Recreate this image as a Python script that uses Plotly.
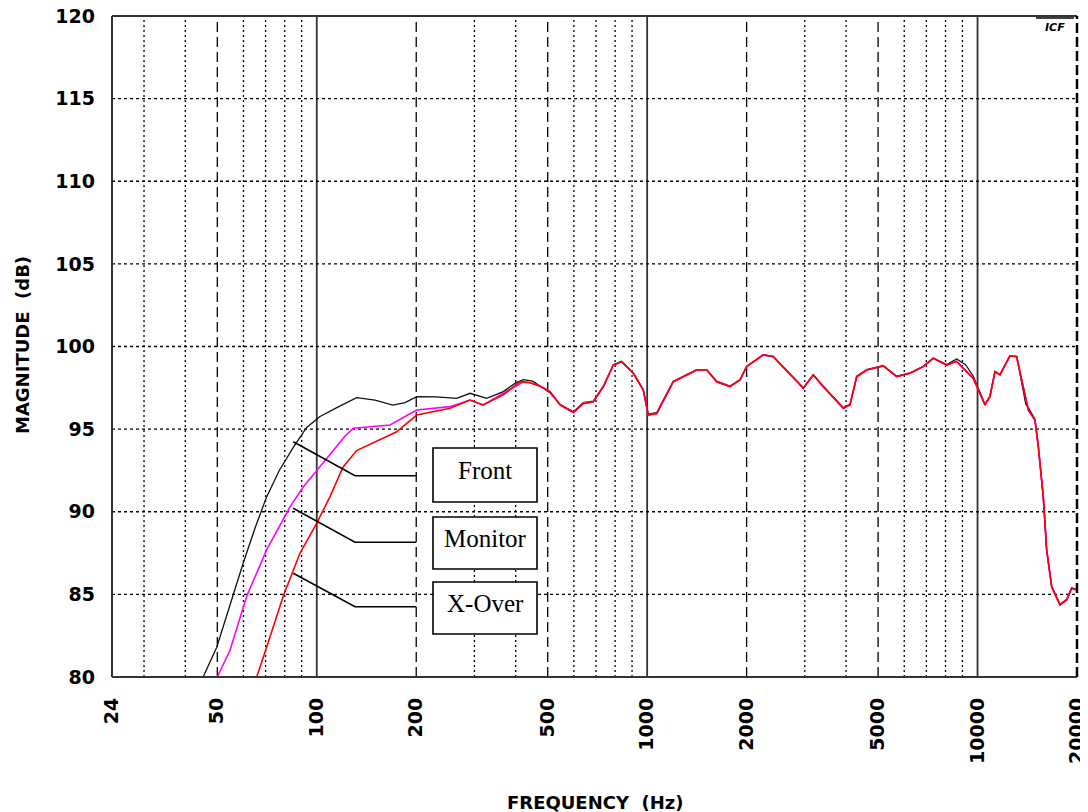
import math
import plotly.graph_objects as go

# ---------------- data ----------------
front_freq = [44, 45.3, 49.8, 54.5, 59.9, 65, 70.5, 77, 84.9, 93.2, 102, 115, 132, 150, 170, 185,
              200.7, 230, 265, 291, 327, 367, 400, 422, 450, 508, 545, 598, 641, 687, 737, 790, 837,
              908, 973, 1008, 1069, 1200, 1412, 1514, 1624, 1781, 1910, 2001, 2246, 2408, 2969,
              3182, 3412, 3924, 4111, 4308, 4618, 5185, 5691, 6246, 6849, 7344, 8065, 8645, 9200,
              9708, 10531, 10903, 11290, 11693, 12535, 13133, 14000, 14242, 14922, 15271, 15811,
              16188, 16762, 17760, 18607, 19267, 20000]
front_db = [79.5, 80.0, 81.8, 84.3, 86.9, 89.0, 90.9, 92.5, 93.9, 95.1, 95.75, 96.3, 96.9, 96.75,
            96.45, 96.6, 96.96, 96.95, 96.86, 97.17, 96.86, 97.27, 97.8, 98.0, 97.9, 97.2, 96.5,
            96.05, 96.6, 96.7, 97.6, 98.9, 99.1, 98.4, 97.4, 95.9, 96.0, 97.9, 98.6, 98.6, 97.9,
            97.6, 98.0, 98.8, 99.5, 99.4, 97.5, 98.3, 97.6, 96.3, 96.5, 98.2, 98.6, 98.85, 98.2,
            98.4, 98.8, 99.3, 98.9, 99.25, 98.9, 98.2, 96.5, 97.0, 98.5, 98.3, 99.45, 99.4, 96.5,
            96.3, 95.6, 94.0, 90.9, 87.7, 85.5, 84.4, 84.7, 85.4, 85.3]

monitor_freq = [49, 50, 54.6, 61.4, 70.5, 83, 91, 100, 112, 122, 129, 145, 166.6, 200.7, 253, 291,
                319, 367, 422, 442, 475, 508, 545, 598, 641, 687, 737, 790, 837, 908, 973, 1008,
                1069, 1200, 1412, 1514, 1624, 1781, 1910, 2001, 2246, 2408, 2969, 3182, 3412,
                3924, 4111, 4308, 4618, 5185, 5691, 6246, 6849, 7344, 8065, 8645, 9708, 10531,
                10903, 11290, 11693, 12535, 13133, 14242, 14922, 15271, 15811, 16188, 16762,
                17760, 18607, 19267, 20000]
monitor_db = [79.6, 80.0, 81.6, 84.9, 87.7, 90.3, 91.5, 92.5, 93.7, 94.6, 95.05, 95.15, 95.25,
              96.16, 96.36, 96.76, 96.46, 97.17, 97.87, 97.81, 97.6, 97.27, 96.46, 96.0, 96.56,
              96.66, 97.57, 98.88, 99.08, 98.38, 97.37, 95.85, 95.95, 97.87, 98.58, 98.58, 97.87,
              97.57, 97.97, 98.78, 99.49, 99.38, 97.47, 98.28, 97.57, 96.26, 96.46, 98.17, 98.58,
              98.82, 98.17, 98.38, 98.78, 99.28, 98.88, 99.1, 98.07, 96.46, 96.96, 98.47, 98.28,
              99.43, 99.38, 96.16, 95.55, 93.94, 90.91, 87.69, 85.46, 84.36, 84.66, 85.36, 85.26]

xover_freq = [64.5, 65.8, 70.5, 79.2, 89, 99.9, 109.6, 120, 132, 150, 174.5, 200.7, 253, 291, 319,
              367, 412, 442, 475, 508, 545, 598, 641, 687, 737, 790, 837, 908, 973, 1008, 1069,
              1200, 1412, 1514, 1624, 1781, 1910, 2001, 2246, 2408, 2969, 3182, 3412, 3924, 4111,
              4308, 4618, 5185, 5691, 6246, 6849, 7344, 8065, 8645, 9708, 10531, 10903, 11290,
              11693, 12535, 13133, 14242, 14922, 15271, 15811, 16188, 16762, 17760, 18607, 19267,
              20000]
xover_db = [79.6, 80.0, 81.8, 84.9, 87.5, 89.3, 90.9, 92.7, 93.7, 94.2, 94.84, 95.85, 96.26, 96.76,
            96.46, 97.07, 97.87, 97.81, 97.6, 97.27, 96.46, 96.0, 96.56, 96.66, 97.57, 98.88,
            99.08, 98.38, 97.37, 95.85, 95.95, 97.87, 98.58, 98.58, 97.87, 97.57, 97.97, 98.78,
            99.49, 99.38, 97.47, 98.28, 97.57, 96.26, 96.46, 98.17, 98.58, 98.82, 98.17, 98.38,
            98.78, 99.28, 98.88, 99.1, 98.07, 96.46, 96.96, 98.47, 98.28, 99.43, 99.38, 96.16,
            95.55, 93.94, 90.91, 87.69, 85.46, 84.36, 84.66, 85.36, 85.26]

x_tick_vals = [24, 50, 100, 200, 500, 1000, 2000, 5000, 10000, 20000]
x_tick_text = ["24", "50", "100", "200", "500", "1000", "2000", "5000", "10000", "20000"]
y_tick_vals = [80, 85, 90, 95, 100, 105, 110, 115, 120]

grid_solid = [100, 1000, 10000]
grid_longdash = [50, 200, 500, 2000, 5000]
grid_dotted = [30, 40, 60, 70, 80, 90, 300, 400, 600, 700, 800, 900,
               3000, 4000, 6000, 7000, 8000, 9000]
grid_h = [85, 90, 95, 100, 105, 110, 115]

labels = ["Front", "Monitor", "X-Over"]
leader_freq = [84.9, 130.5, 200]
leader_db = {"Front": [94.24, 92.18, 92.18],
             "Monitor": [90.21, 88.15, 88.15],
             "X-Over": [86.28, 84.25, 84.25]}

# ---------------- figure ----------------
# the page adds an 8px body margin; size the figure so the plot area lands where it should
W, H = 1080, 804
L, R, T, B = 104, 11, 8, 135
PL, PB, PW, PH = 112, 677, 965, 661  # plot area in page pixels


def px_x(p):
    return (p - PL) / PW


def px_y(p):
    return (PB - p) / PH


fig = go.Figure()

fig.add_trace(go.Scatter(x=front_freq, y=front_db, mode="lines", name="Front",
                         line=dict(color="#111111", width=1.3)))
fig.add_trace(go.Scatter(x=monitor_freq, y=monitor_db, mode="lines", name="Monitor",
                         line=dict(color="#ff00ff", width=1.6)))
fig.add_trace(go.Scatter(x=xover_freq, y=xover_db, mode="lines", name="X-Over",
                         line=dict(color="#ff0000", width=1.6)))

for lab in labels:
    fig.add_trace(go.Scatter(x=leader_freq, y=leader_db[lab], mode="lines", showlegend=False,
                             line=dict(color="black", width=1.6), hoverinfo="skip"))

shapes = []
for f in grid_dotted:
    shapes.append(dict(type="line", xref="x", yref="paper", x0=f, x1=f, y0=0, y1=1,
                       line=dict(color="black", width=1.3, dash="2px,3px"), layer="below"))
for f in grid_longdash:
    shapes.append(dict(type="line", xref="x", yref="paper", x0=f, x1=f, y0=0, y1=1,
                       line=dict(color="black", width=1.3, dash="10px,5px"), layer="below"))
for f in grid_solid:
    shapes.append(dict(type="line", xref="x", yref="paper", x0=f, x1=f, y0=0, y1=1,
                       line=dict(color="#333333", width=1.8), layer="below"))
for v in grid_h:
    shapes.append(dict(type="line", xref="paper", yref="y", x0=0, x1=1, y0=v, y1=v,
                       line=dict(color="black", width=1.3, dash="3px,3px"), layer="below"))
# plot frame
shapes.append(dict(type="line", xref="paper", yref="paper", x0=0, x1=0, y0=0, y1=1,
                   line=dict(color="#333333", width=2)))
shapes.append(dict(type="line", xref="paper", yref="paper", x0=0, x1=1, y0=1, y1=1,
                   line=dict(color="#333333", width=2)))
shapes.append(dict(type="line", xref="paper", yref="paper", x0=0, x1=1, y0=0, y1=0,
                   line=dict(color="#333333", width=2)))
shapes.append(dict(type="line", xref="paper", yref="paper", x0=1, x1=1, y0=0, y1=1,
                   line=dict(color="black", width=2.5, dash="10px,4px")))

# label boxes
boxes = [(448, 502, 470), (517, 569, 538), (582, 634, 603)]
for lab, (y0, y1, yt) in zip(labels, boxes):
    shapes.append(dict(type="rect", xref="paper", yref="paper",
                       x0=px_x(433), x1=px_x(537), y0=px_y(y1), y1=px_y(y0),
                       fillcolor="white", line=dict(color="black", width=1.6), layer="above"))
    fig.add_annotation(xref="paper", yref="paper", x=px_x(485), y=px_y(yt), text=lab,
                       showarrow=False, xanchor="center", yanchor="middle",
                       font=dict(family="Liberation Serif", size=25, color="black"))

# logo
shapes.append(dict(type="line", xref="paper", yref="paper", x0=px_x(1036), x1=px_x(1074),
                   y0=px_y(18), y1=px_y(18), line=dict(color="black", width=1.5)))
fig.add_annotation(xref="paper", yref="paper", x=px_x(1055), y=px_y(27), text="<b><i>ICF</i></b>",
                   showarrow=False, xanchor="center", yanchor="middle",
                   font=dict(family="DejaVu Sans", size=11, color="black"))

# axis titles
fig.add_annotation(xref="paper", yref="paper", x=px_x(595), y=px_y(802), text="FREQUENCY  (Hz)",
                   showarrow=False, xanchor="center", yanchor="middle",
                   font=dict(family="DejaVu Sans", size=18, color="black", weight="bold"))
fig.add_annotation(xref="paper", yref="paper", x=px_x(22), y=px_y(345), text="MAGNITUDE  (dB)",
                   showarrow=False, xanchor="center", yanchor="middle", textangle=-90,
                   font=dict(family="DejaVu Sans", size=18, color="black", weight="bold"))

fig.update_layout(
    width=W, height=H,
    margin=dict(l=L, r=R, t=T, b=B, autoexpand=False),
    paper_bgcolor="white", plot_bgcolor="white",
    showlegend=False,
    shapes=shapes,
    xaxis=dict(type="log", range=[math.log10(24), math.log10(20000)],
               tickvals=x_tick_vals, ticktext=x_tick_text, tickangle=-90,
               showgrid=False, zeroline=False, showline=False, ticks="",
               automargin=False, ticklabelstandoff=16, ticklabeloverflow="allow",
               tickfont=dict(family="DejaVu Sans", size=19, color="black", weight="bold")),
    yaxis=dict(range=[80, 120], tickvals=y_tick_vals,
               showgrid=False, zeroline=False, showline=False, ticks="",
               automargin=False, ticklabelstandoff=16, ticklabeloverflow="allow",
               tickfont=dict(family="DejaVu Sans", size=19, color="black", weight="bold")),
)

fig.write_html("out.html")
